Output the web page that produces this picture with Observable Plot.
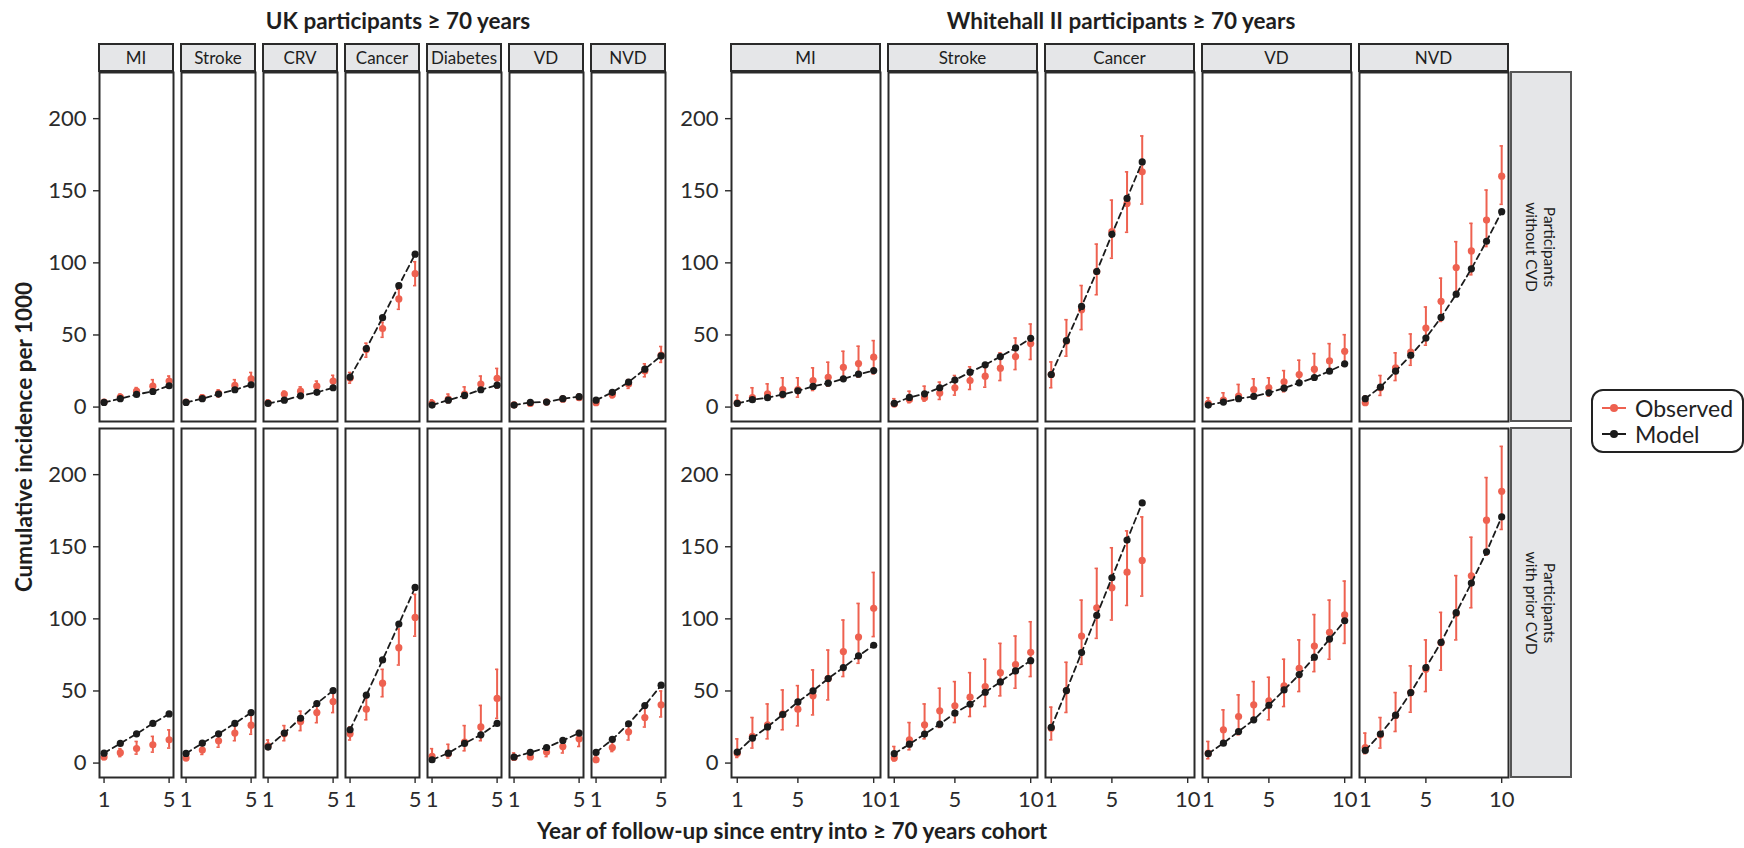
<!DOCTYPE html>
<html>
<head>
<meta charset="utf-8">
<script src="https://cdn.jsdelivr.net/npm/d3@7"></script>
<script src="https://cdn.jsdelivr.net/npm/@observablehq/plot@0.6"></script>
<style>
  body { margin: 0; background: #fff; font-family: Lato, "Open Sans", sans-serif; }
  #root { position: relative; width: 1744px; height: 848px; overflow: hidden; background: #fff; }
  #root > svg { position: absolute; left: 0; top: 0; }
  .strip { position: absolute; box-sizing: border-box; background: #e5e6e8; border: 2px solid #2a2a2a;
           display: flex; align-items: center; justify-content: center; font-size: 17px; color: #1e1e1e; }
  .rowstrip { position: absolute; box-sizing: border-box; background: #e5e6e8; border: 2px solid #555;
              display: flex; align-items: center; justify-content: center; }
  .rowstrip span { display: block; transform: rotate(90deg); white-space: nowrap; text-align: center;
                   font-size: 15.5px; line-height: 18px; color: #1e1e1e; }
  .title { position: absolute; font-weight: bold; font-size: 22.5px; color: #1e1e1e; white-space: nowrap;
           transform: translate(-50%, -50%); }
  .ytitle { position: absolute; font-weight: bold; font-size: 22.5px; color: #1e1e1e; white-space: nowrap;
            transform: translate(-50%, -50%) rotate(-90deg); }
  .legend { position: absolute; box-sizing: border-box; border: 2px solid #222; border-radius: 12px;
            background: #fff; padding: 4px 0 0 8px; }
  .legend .item { display: flex; align-items: center; height: 26px; font-size: 23px; color: #222; }
  .legend svg { margin-right: 8px; }
</style>
</head>
<body>
<div id="root"></div>
<script>
// ---------- data ----------
const rowKeys = ["Participants without CVD", "Participants with prior CVD"];
const ukCauses = ["MI", "Stroke", "CRV", "Cancer", "Diabetes", "VD", "NVD"];
const whCauses = ["MI", "Stroke", "Cancer", "VD", "NVD"];
const ukYears = [1, 2, 3, 4, 5];
const whYears = [1, 2, 3, 4, 5, 6, 7, 8, 9, 10];
const ukTicks = [1, 5];
const whTicks = [1, 5, 10];
const yTicks = [0, 50, 100, 150, 200];
const seriesNames = ["Observed", "Model"];

// UK, participants without CVD
const ukWithoutModel = [
  [3.2, 5.8, 8.8, 10.8, 14.8],
  [3.2, 5.8, 9.0, 12.0, 15.5],
  [2.5, 4.8, 7.8, 10.2, 13.4],
  [20.8, 40.6, 62, 84.2, 106],
  [1.4, 4.8, 8.1, 12, 15.2],
  [1.4, 3.2, 3.5, 5.8, 7.2],
  [4.8, 10.2, 17.3, 26.3, 35.5]];
const ukWithoutObs = [
  [3.5, 7, 11, 14.5, 18],
  [3.5, 6.5, 9.5, 15, 19.5],
  [3, 9, 11, 14.5, 18],
  [20, 40, 54.5, 75, 92.5],
  [2.5, 5.5, 9, 16, 20],
  [1.5, 2.5, 3.5, 5.5, 6.5],
  [3, 8.5, 16, 25, 36]];
const ukWithoutLo = [
  [2.3, 5, 8, 11.5, 14.5],
  [2, 5, 7, 11, 16],
  [2, 6, 8, 11, 14],
  [16.6, 34.6, 48.4, 67.8, 84.2],
  [1, 3, 6, 10.8, 13.1],
  [0.5, 1, 2, 4, 5],
  [1.5, 6.5, 13, 21, 31]];
const ukWithoutHi = [
  [4.8, 9, 13.5, 19, 21.5],
  [5, 8.5, 12, 19, 24],
  [5, 11, 14, 18, 22],
  [24, 44.3, 58.8, 81.7, 100.8],
  [5, 9, 14, 21.5, 26.8],
  [3, 4.5, 5, 7.5, 9],
  [5, 11, 19, 30, 42]];

// UK, participants with prior CVD
const ukPriorModel = [
  [6.9, 13.6, 20.3, 27.5, 34.1],
  [6.7, 13.8, 20.3, 27.5, 35],
  [11.1, 20.8, 31.1, 41.3, 50.3],
  [23.1, 47.1, 71.5, 96.4, 121.8],
  [2.3, 6.9, 13.6, 19.6, 27.5],
  [4.2, 7.4, 10.8, 15.7, 20.8],
  [7.4, 16.4, 27.2, 39.9, 54]];
const ukPriorObs = [
  [4.2, 7.2, 10.1, 12.7, 16.1],
  [3.5, 9, 15.5, 20.8, 26.3],
  [12, 20.3, 28.8, 35, 42.7],
  [20.3, 37.4, 55.4, 80, 101],
  [4.6, 6.5, 14.5, 25.1, 44.8],
  [3.9, 4.2, 7.6, 11.5, 16.8],
  [2.3, 10.8, 21.7, 31.6, 40.4]];
const ukPriorLo = [
  [2.5, 4.5, 6.2, 7.6, 10.4],
  [2, 6, 11, 15.5, 20],
  [9.5, 15.5, 22.5, 28, 35],
  [16, 30, 46, 68, 88],
  [1, 3.5, 8.5, 15.5, 31],
  [2, 3, 4.5, 7, 11.5],
  [0.5, 8, 16, 25, 32]];
const ukPriorHi = [
  [6, 10, 15, 18.5, 23],
  [5.5, 12.5, 20.5, 27, 35],
  [16, 26, 36, 42.5, 50],
  [25, 45, 65, 93, 117],
  [10, 13, 26, 40, 65],
  [7, 8, 11, 16.5, 22.5],
  [5, 15, 27, 39, 50]];

// Whitehall II, participants without CVD
const whWithoutModel = [
  [2.5, 5.1, 6.5, 8.8, 11.3, 14.3, 16.6, 19.6, 22.8, 25.3],
  [2.5, 6.7, 9.2, 13.4, 18.7, 24.2, 29.3, 35, 41, 47.7],
  [22.6, 46.1, 69.8, 94, 119.8, 144.7, 170],
  [1.4, 3.5, 5.8, 7.4, 9.9, 13.1, 16.8, 20.5, 24.9, 30],
  [5.8, 13.8, 24.9, 35.9, 47.9, 62.2, 78.3, 95.9, 115, 135.5]];
const whWithoutObs = [
  [3, 6.5, 9.2, 12.2, 12.2, 18.4, 20.7, 27.6, 30.2, 34.6],
  [2.1, 5.3, 6.5, 9.7, 13.4, 18.4, 21.4, 27, 35, 44],
  [22.6, 45.6, 67.5, 94, 121.7, 141.2, 163.1],
  [2.5, 4.8, 7.6, 12.2, 13.4, 17.5, 22.6, 26.3, 32, 38.7],
  [3, 13.4, 27.2, 38.2, 54.8, 73.3, 96.8, 108.3, 129.7, 160.1]];
const whWithoutLo = [
  [0.7, 4.1, 5.3, 6.5, 6.9, 11.5, 14.5, 19.1, 20.7, 23],
  [0.7, 3, 4.1, 5.3, 8.3, 12.2, 13.8, 18.4, 26, 33],
  [13.4, 35.3, 53.7, 77.9, 103.2, 121.2, 140.8],
  [0.3, 3, 4.1, 6.5, 7.6, 10.6, 15.7, 19.1, 23.7, 28.3],
  [1.8, 8.1, 18.4, 29, 42.9, 59.4, 77.9, 91.7, 111.3, 140.6]];
const whWithoutHi = [
  [8.3, 13.4, 16.1, 20.3, 20.3, 27.2, 31.1, 38.7, 42.2, 46.1],
  [5.8, 11, 14.5, 17.3, 21.9, 27.9, 30.6, 37.6, 47.9, 57.6],
  [31.3, 60.6, 84.3, 113, 143.5, 163.1, 188],
  [6.5, 9.9, 15.7, 19.6, 20.3, 25.3, 32.5, 37.1, 44, 50.2],
  [7.6, 21.9, 37.6, 50.7, 69.4, 89.4, 114.7, 127.4, 150.5, 181.1]];

// Whitehall II, participants with prior CVD
const whPriorModel = [
  [7.6, 17.3, 25.1, 33.7, 42.4, 50.1, 58.6, 66.2, 74.3, 81.7],
  [6.5, 13.1, 20.1, 27, 34.6, 40.8, 49.1, 56.3, 63.9, 71],
  [24.7, 50.3, 76.6, 102.4, 128.5, 154.6, 180.4],
  [6.5, 13.8, 21.9, 30, 40.1, 50.7, 61.4, 73.4, 86, 98.7],
  [8.8, 20.1, 33.2, 48.9, 66.2, 83.7, 104.3, 124.8, 146.5, 170.7]];
const whPriorObs = [
  [6.9, 18.5, 26.5, 34.1, 37.4, 46.6, 58.6, 77.3, 87.4, 107.3],
  [3.5, 16.1, 26.5, 36.2, 39.7, 45.7, 53.1, 62.7, 68.3, 76.8],
  [24.2, 50.3, 88.1, 107.7, 121.6, 132.4, 140.5],
  [6.9, 23.1, 32.3, 40.4, 43.1, 53.5, 65.7, 81.2, 90.7, 102.7],
  [10.8, 19.6, 33, 48.9, 65, 83.5, 103.8, 129.9, 168.4, 188.5]];
const whPriorLo = [
  [3.9, 10.4, 16.8, 23.1, 25.8, 33.4, 43.8, 60, 69.2, 87.7],
  [1.6, 9.2, 16.8, 24.7, 28.1, 32.3, 39.2, 46.6, 51.9, 60],
  [16.1, 35.1, 68.5, 86.5, 99.2, 109.3, 115.8],
  [3, 13.8, 19.6, 28.8, 30, 39.2, 49.6, 63.4, 72, 83],
  [6.5, 10.4, 21.9, 35.3, 49.6, 64.4, 85.4, 107.7, 144.2, 162]];
const whPriorHi = [
  [16.8, 31.6, 41, 50.7, 53.7, 64.6, 78.4, 99.2, 110.7, 132.2],
  [11.5, 28.1, 41, 51.9, 56.5, 62.7, 72, 83, 88.1, 98],
  [38.8, 69.9, 113, 135, 149.3, 161, 170.7],
  [15, 36.9, 47.3, 56.5, 59.5, 72, 85.4, 103, 113, 126.2],
  [20.8, 31.6, 48.9, 67.4, 85.4, 104.5, 130, 156.6, 198, 219.6]];

// ---------- build tables ----------
function buildTable(causes, years, rowSets) {
  const out = [];
  rowSets.forEach(([row, model, obs, lo, hi]) => {
    causes.forEach((cause, ci) => {
      model[ci].forEach((m, k) => {
        out.push({cause, row, x: years[k], model: m, obs: obs[ci][k], lo: lo[ci][k], hi: hi[ci][k]});
      });
    });
  });
  return out;
}
const ukTable = buildTable(ukCauses, ukYears, [
  [rowKeys[0], ukWithoutModel, ukWithoutObs, ukWithoutLo, ukWithoutHi],
  [rowKeys[1], ukPriorModel, ukPriorObs, ukPriorLo, ukPriorHi]]);
const whTable = buildTable(whCauses, whYears, [
  [rowKeys[0], whWithoutModel, whWithoutObs, whWithoutLo, whWithoutHi],
  [rowKeys[1], whPriorModel, whPriorObs, whPriorLo, whPriorHi]]);

// ---------- drawing ----------
const RED = "#EE6150", BLACK = "#1b1b1b";
const W = 1744, H = 848, TOP = 71, BOTTOM = 778;
const root = document.getElementById("root");

function makePlot(table, causes, xDomain, xTicks, capHalf, left, right, padInner) {
  const f = {fx: "cause", fy: "row"};
  return Plot.plot({
    width: W, height: H,
    marginLeft: left, marginRight: W - right, marginTop: TOP, marginBottom: H - BOTTOM,
    style: {fontFamily: "Lato, sans-serif", color: "#2b2b2b", background: "transparent", overflow: "visible"},
    x: {domain: xDomain},
    y: {domain: [-10, 232]},
    fx: {domain: causes, paddingInner: padInner, paddingOuter: 0, axis: null},
    fy: {domain: rowKeys, paddingInner: 0.0196, paddingOuter: 0, axis: null},
    marks: [
      Plot.axisY({ticks: yTicks, tickFormat: "d", tickSize: 6, tickPadding: 7, fontSize: 22, label: null, facetAnchor: "left", strokeWidth: 1.4}),
      Plot.axisX({ticks: xTicks, tickFormat: "d", tickSize: 6, tickPadding: 8, fontSize: 22, label: null, facetAnchor: "bottom", strokeWidth: 1.4}),
      Plot.ruleX(table, {...f, x: "x", y1: "lo", y2: "hi", stroke: RED, strokeWidth: 2}),
      Plot.ruleY(table, {...f, y: "lo", x1: d => d.x - capHalf, x2: d => d.x + capHalf, stroke: RED, strokeWidth: 1.6}),
      Plot.ruleY(table, {...f, y: "hi", x1: d => d.x - capHalf, x2: d => d.x + capHalf, stroke: RED, strokeWidth: 1.6}),
      Plot.dot(table, {...f, x: "x", y: "obs", r: 3.6, fill: RED}),
      Plot.line(table, {...f, x: "x", y: "model", stroke: BLACK, strokeWidth: 1.8, strokeDasharray: "6,4"}),
      Plot.dot(table, {...f, x: "x", y: "model", r: 3.6, fill: BLACK}),
      Plot.frame({stroke: "#2a2a2a", strokeWidth: 2})
    ]
  });
}

const ukPlot = makePlot(ukTable, ukCauses, [0.72, 5.27], ukTicks, 0.1, 96, 667.5, 0.0937);
const whPlot = makePlot(whTable, whCauses, [0.62, 10.45], whTicks, 0.11, 729, 1511, 0.0506);
root.appendChild(ukPlot);
root.appendChild(whPlot);

function bandOf(plot, name, domain, range, pad) {
  let s = null;
  try { s = plot.scale(name); } catch (e) { s = null; }
  if (s && s.apply && s.bandwidth != null) return {pos: v => s.apply(v), bw: s.bandwidth};
  const b = d3.scaleBand(domain, range).paddingInner(pad).paddingOuter(0);
  return {pos: v => b(v), bw: b.bandwidth()};
}

function addColumnStrips(plot, causes, left, right, pad) {
  const fx = bandOf(plot, "fx", causes, [left, right], pad);
  causes.forEach(c => {
    const d = document.createElement("div");
    d.className = "strip";
    d.style.left = (fx.pos(c) - 1) + "px";
    d.style.top = "43px";
    d.style.width = (fx.bw + 2) + "px";
    d.style.height = (TOP - 43 + 1) + "px";
    d.textContent = c;
    root.appendChild(d);
  });
}
addColumnStrips(ukPlot, ukCauses, 96, 667.5, 0.0937);
addColumnStrips(whPlot, whCauses, 729, 1511, 0.0506);

// Row strips (right of Whitehall group)
const fy = bandOf(whPlot, "fy", rowKeys, [TOP, BOTTOM], 0.0196);
const rowLines = [["Participants", "without CVD"], ["Participants", "with prior CVD"]];
rowKeys.forEach((r, i) => {
  const d = document.createElement("div");
  d.className = "rowstrip";
  d.style.left = "1510px";
  d.style.top = (fy.pos(r) - 1) + "px";
  d.style.width = "62px";
  d.style.height = (fy.bw + 2) + "px";
  const s = document.createElement("span");
  s.innerHTML = rowLines[i][0] + "<br>" + rowLines[i][1];
  d.appendChild(s);
  root.appendChild(d);
});

// Titles
function addText(cls, text, x, y) {
  const d = document.createElement("div");
  d.className = cls; d.textContent = text;
  d.style.left = x + "px"; d.style.top = y + "px";
  root.appendChild(d);
}
addText("title", "UK participants \u2265 70 years", 398, 20);
addText("title", "Whitehall II participants \u2265 70 years", 1121, 20);
addText("title", "Year of follow-up since entry into \u2265 70 years cohort", 792, 830);
addText("ytitle", "Cumulative incidence per 1000", 23, 437);

// Legend
const leg = document.createElement("div");
leg.className = "legend";
leg.style.left = "1591px"; leg.style.top = "389px"; leg.style.width = "153px"; leg.style.height = "64px";
[[seriesNames[0], RED], [seriesNames[1], BLACK]].forEach(([name, col]) => {
  const it = document.createElement("div");
  it.className = "item";
  it.innerHTML = `<svg width="26" height="14"><line x1="1" x2="25" y1="7" y2="7" stroke="${col}" stroke-width="2"/><circle cx="13" cy="7" r="4" fill="${col}"/></svg><span>${name}</span>`;
  leg.appendChild(it);
});
root.appendChild(leg);
</script>
</body>
</html>
